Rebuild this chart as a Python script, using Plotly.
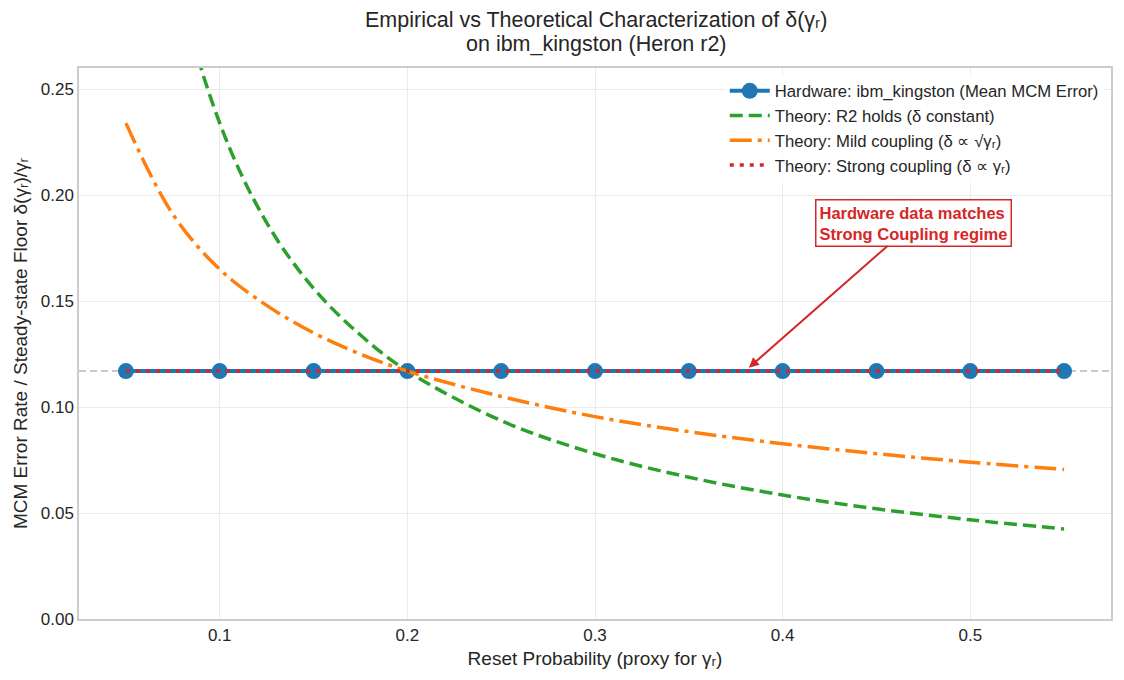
import plotly.graph_objects as go

# Hardware measurements
reset_prob = [0.05, 0.10, 0.15, 0.20, 0.25, 0.30, 0.35, 0.40, 0.45, 0.50, 0.55]
hw_error = [0.117, 0.117, 0.117, 0.117, 0.117, 0.117, 0.117, 0.117, 0.117, 0.117, 0.117]
strong_coupling = [0.117, 0.117, 0.117, 0.117, 0.117, 0.117, 0.117, 0.117, 0.117, 0.117, 0.117]

# Theory curves
theory_x = [0.05, 0.075, 0.10, 0.125, 0.15, 0.175, 0.20, 0.25, 0.30, 0.35, 0.40, 0.45, 0.50, 0.55]
r2_holds = [0.468, 0.312, 0.234, 0.187, 0.156, 0.134, 0.117, 0.0936, 0.078, 0.0669, 0.0585, 0.052, 0.0468, 0.0425]
mild_coupling = [0.234, 0.191, 0.165, 0.148, 0.135, 0.125, 0.117, 0.105, 0.0955, 0.0884, 0.0827, 0.078, 0.074, 0.0706]

floor_level = 0.117

title_lines = ["Empirical vs Theoretical Characterization of δ(γᵣ)", "on ibm_kingston (Heron r2)"]

FONT = "Liberation Sans, Arial, sans-serif"
TXT = "#262626"

fig = go.Figure()

fig.add_trace(go.Scatter(
    x=reset_prob, y=hw_error, mode="lines+markers",
    name="Hardware: ibm_kingston (Mean MCM Error)",
    line=dict(color="#1f77b4", width=4),
    marker=dict(size=16, color="#1f77b4"),
))
fig.add_trace(go.Scatter(
    x=theory_x, y=r2_holds, mode="lines", line_shape="spline",
    name="Theory: R2 holds (δ constant)",
    line=dict(color="#2ca02c", width=3.5, dash="13px,6px"),
))
fig.add_trace(go.Scatter(
    x=theory_x, y=mild_coupling, mode="lines", line_shape="spline",
    name="Theory: Mild coupling (δ ∝ √γᵣ)",
    line=dict(color="#ff7f0e", width=3.5, dash="22px,6px,4px,6px"),
))
fig.add_trace(go.Scatter(
    x=reset_prob, y=strong_coupling, mode="lines",
    name="Theory: Strong coupling (δ ∝ γᵣ)",
    line=dict(color="#d62728", width=3.5, dash="4px,6px"),
))

fig.add_hline(y=floor_level, line=dict(color="#b8b8b8", width=1.5, dash="7px,4px"), layer="below")

fig.add_annotation(
    x=0.382, y=0.1186, xref="x", yref="y",
    ax=0.47, ay=0.187, axref="x", ayref="y",
    text="<b>Hardware data matches<br>Strong Coupling regime</b>",
    showarrow=True, arrowhead=2, arrowsize=1, arrowwidth=2, arrowcolor="#d62728",
    font=dict(family=FONT, size=16.5, color="#d62728"),
    bgcolor="white", bordercolor="#d62728", borderwidth=1.5, borderpad=3,
    align="left",
)

# Two-line title
for txt, ypos in zip(title_lines, [1.0871, 1.0436]):
    fig.add_annotation(
        x=0.501, y=ypos, xref="paper", yref="paper",
        xanchor="center", yanchor="middle", showarrow=False,
        text=txt, font=dict(family=FONT, size=21.5, color=TXT),
    )

fig.update_layout(
    width=1124, height=680,
    margin=dict(l=79, r=13, t=68, b=61),
    paper_bgcolor="white", plot_bgcolor="white",
    font=dict(family=FONT, size=16, color=TXT),
    legend=dict(
        x=0.993, y=0.99, xanchor="right", yanchor="top",
        bgcolor="rgba(255,255,255,0.8)", font=dict(size=16.7, color=TXT),
        tracegroupgap=0, itemwidth=40,
    ),
    showlegend=True,
)

fig.update_xaxes(
    range=[0.025, 0.575], tickvals=[0.1, 0.2, 0.3, 0.4, 0.5],
    ticktext=["0.1", "0.2", "0.3", "0.4", "0.5"],
    showgrid=True, gridcolor="#ebebeb", gridwidth=1,
    showline=True, linecolor="#cccccc", linewidth=1.5, mirror=True,
    zeroline=False, ticks="", tickfont=dict(size=17),
    title=dict(text="Reset Probability (proxy for γᵣ)", font=dict(size=19), standoff=8),
)
fig.update_yaxes(
    range=[0, 0.26], tickvals=[0, 0.05, 0.1, 0.15, 0.2, 0.25],
    ticktext=["0.00", "0.05", "0.10", "0.15", "0.20", "0.25"],
    showgrid=True, gridcolor="#ebebeb", gridwidth=1,
    showline=True, linecolor="#cccccc", linewidth=1.5, mirror=True,
    zeroline=False, ticks="", tickfont=dict(size=17),
    title=dict(text="MCM Error Rate / Steady-state Floor δ(γᵣ)/γᵣ", font=dict(size=19), standoff=8),
)

fig.write_html("out.html")
